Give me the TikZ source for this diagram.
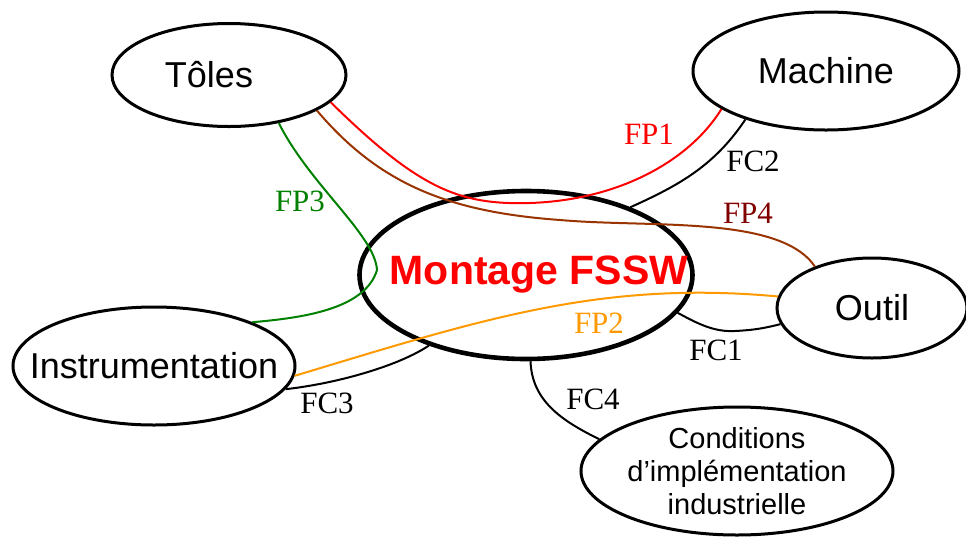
\documentclass[tikz,border=0pt]{standalone}
\usepackage{fontspec}
\setmainfont{Liberation Sans}
\newfontfamily\lblfont{Liberation Serif}
\usetikzlibrary{shapes.geometric}
\definecolor{grn}{RGB}{0,128,0}
\definecolor{brn}{RGB}{153,51,0}
\definecolor{fpbrn}{RGB}{128,0,0}
\definecolor{orng}{RGB}{255,153,0}

\begin{document}
\begin{tikzpicture}[x=0.5pt,y=-0.5pt,
  bloc/.style={draw,ellipse,line width=1.5pt,inner sep=0pt,font=\fontsize{18}{20}\selectfont},
  lien/.style={line width=1pt},
  lbl/.style={font=\lblfont\fontsize{15.5}{17}\selectfont}]
  \useasboundingbox (0,0) rectangle (966,537);
  % les blocs
  \node[bloc,minimum width=117pt,minimum height=51.5pt] (toles) at (229,75) {Tôles\hspace*{20pt}};
  \node[bloc,minimum width=133pt,minimum height=59pt] (machine) at (826,71) {Machine};
  \node[bloc,minimum width=141pt,minimum height=59pt] (instru) at (154,366) {\makebox[0pt]{Instrumentation}};
  \node[bloc,minimum width=95pt,minimum height=50pt] (outil) at (872,308) {Outil};
  \node[bloc,minimum width=156pt,minimum height=64pt,align=center,font=\fontsize{14.5}{16.5}\selectfont] (cond) at (737,471) {Conditions\\d’implémentation\\industrielle};
  \node[bloc,line width=2.3pt,minimum width=166.5pt,minimum height=84pt,text=red,font=\bfseries\fontsize{20.5}{22}\selectfont] (montage) at (526,275) {\makebox[0pt]{\hspace*{13pt}Montage FSSW}};
  % fonctions principales
  \draw[lien,red] (toles.-15) .. controls (420,190) and (460,205) .. (530,203) .. controls (620,200) and (690,160) .. (machine.200);
  \draw[lien,brn] (toles.-22) .. controls (380,185) and (450,212) .. (560,220) .. controls (650,228) and (780,215) .. (outil.144);
  \draw[lien,grn] (toles.-44) .. controls (310,185) and (375,235) .. (377,270) .. controls (365,310) and (300,318) .. (instru.24);
  \draw[lien,orng] (instru.-4) .. controls (480,320) and (600,280) .. (outil.173);
  % fonctions contraintes
  \draw[lien] (machine.211) .. controls (715,165) and (680,185) .. (montage.33);
  \draw[lien] (montage.-14) .. controls (700,325) and (715,332) .. (735,331) .. controls (755,330) and (765,328) .. (outil.190);
  \draw[lien] (instru.-10) .. controls (340,383) and (400,365) .. (montage.216);
  \draw[lien] (montage.273) .. controls (532,400) and (560,420) .. (cond.167);
  % etiquettes
  \node[lbl,red] (fp1) at (649,134) {FP1};
  \node[lbl] (fc2) at (753,161) {FC2};
  \node[lbl,grn] (fp3) at (300,201) {FP3};
  \node[lbl,fpbrn] (fp4) at (748,213) {FP4};
  \node[lbl,orng] (fp2) at (599,323) {FP2};
  \node[lbl] (fc1) at (716,350) {FC1};
  \node[lbl] (fc3) at (327,403) {FC3};
  \node[lbl] (fc4) at (593,399) {FC4};
\end{tikzpicture}
\end{document}
